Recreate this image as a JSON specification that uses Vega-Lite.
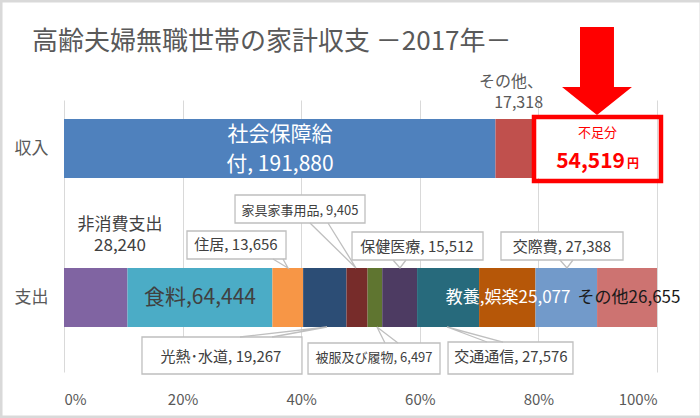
{
  "$schema": "https://vega.github.io/schema/vega-lite/v6.json",
  "width": 593,
  "height": 272,
  "autosize": {"type": "none"},
  "padding": {"left": 64, "top": 100, "right": 43, "bottom": 46},
  "background": "white",
  "config": {"font": "Noto Sans CJK JP", "view": {"stroke": null}},
  "datasets": {
    "budget": [
      {"cat": "収入", "item": "社会保障給付", "value": 191880, "ord": 1},
      {"cat": "収入", "item": "その他（収入）", "value": 17318, "ord": 2},
      {"cat": "収入", "item": "不足分", "value": 54519, "ord": 3},
      {"cat": "支出", "item": "非消費支出", "value": 28240, "ord": 4},
      {"cat": "支出", "item": "食料", "value": 64444, "ord": 5},
      {"cat": "支出", "item": "住居", "value": 13656, "ord": 6},
      {"cat": "支出", "item": "光熱・水道", "value": 19267, "ord": 7},
      {"cat": "支出", "item": "家具家事用品", "value": 9405, "ord": 8},
      {"cat": "支出", "item": "被服及び履物", "value": 6497, "ord": 9},
      {"cat": "支出", "item": "保健医療", "value": 15512, "ord": 10},
      {"cat": "支出", "item": "交通通信", "value": 27576, "ord": 11},
      {"cat": "支出", "item": "教養娯楽", "value": 25077, "ord": 12},
      {"cat": "支出", "item": "交際費", "value": 27388, "ord": 13},
      {"cat": "支出", "item": "その他（支出）", "value": 26655, "ord": 14}
    ],
    "labels": [
      {"kind": "title", "text": "高齢夫婦無職世帯の家計収支 －2017年－", "x": -0.054, "y": 2.661},
      {"kind": "wb", "text": "社会保障給", "x": 0.3642, "y": 2.0906},
      {"kind": "wb", "text": "付, 191,880", "x": 0.3642, "y": 1.8893},
      {"kind": "g1", "text": "その他、", "x": 0.8078, "y": 2.4463},
      {"kind": "g1", "text": "17,318", "x": 0.8078, "y": 2.3054},
      {"kind": "g2", "text": "非消費支出", "x": 0.0944, "y": 1.4866},
      {"kind": "g2", "text": "28,240", "x": 0.0944, "y": 1.3456},
      {"kind": "food", "text": "食料,64,444", "x": 0.2293, "y": 0.997},
      {"kind": "w2", "text": "教養,娯楽25,077", "x": 0.749, "y": 0.997},
      {"kind": "k2", "text": "その他26,655", "x": 0.9528, "y": 0.997},
      {"kind": "c16", "text": "住居, 13,656", "x": 0.29, "y": 1.3523},
      {"kind": "c16", "text": "保健医療, 15,512", "x": 0.5953, "y": 1.3389},
      {"kind": "c16", "text": "交際費, 27,388", "x": 0.8398, "y": 1.3389},
      {"kind": "c16", "text": "光熱･水道, 19,267", "x": 0.2648, "y": 0.6007},
      {"kind": "c16", "text": "交通通信, 27,576", "x": 0.7538, "y": 0.6007},
      {"kind": "c13", "text": "家具家事用品, 9,405", "x": 0.398, "y": 1.5805},
      {"kind": "c13", "text": "被服及び履物, 6,497", "x": 0.5228, "y": 0.594},
      {"kind": "r1", "text": "不足分", "x": 0.8997, "y": 2.104},
      {"kind": "r2", "text": "54,519", "x": 0.946, "y": 1.8691},
      {"kind": "r3", "text": "円", "x": 0.9494, "y": 1.8691}
    ],
    "boxes": [
      {"id": "住居", "x": 0.2074, "x2": 0.3744, "y": 1.4463, "y2": 1.2584},
      {"id": "家具家事用品", "x": 0.2884, "x2": 0.5076, "y": 1.6879, "y2": 1.5},
      {"id": "保健医療", "x": 0.4857, "x2": 0.7066, "y": 1.4396, "y2": 1.2517},
      {"id": "交際費", "x": 0.7369, "x2": 0.9427, "y": 1.4396, "y2": 1.2517},
      {"id": "光熱・水道", "x": 0.1315, "x2": 0.4013, "y": 0.7349, "y2": 0.4866},
      {"id": "被服及び履物", "x": 0.4115, "x2": 0.6341, "y": 0.6946, "y2": 0.4866},
      {"id": "交通通信", "x": 0.6476, "x2": 0.8583, "y": 0.7013, "y2": 0.4866}
    ],
    "pointers": [
      {"id": "住居", "o": 1, "x": 0.3524, "y": 1.2584},
      {"id": "住居", "o": 2, "x": 0.3777, "y": 1.198},
      {"id": "住居", "o": 3, "x": 0.3693, "y": 1.2584},
      {"id": "家具家事用品", "o": 1, "x": 0.4148, "y": 1.5},
      {"id": "家具家事用品", "o": 2, "x": 0.4924, "y": 1.198},
      {"id": "家具家事用品", "o": 3, "x": 0.4452, "y": 1.5},
      {"id": "保健医療", "o": 1, "x": 0.5548, "y": 1.2517},
      {"id": "保健医療", "o": 2, "x": 0.5666, "y": 1.198},
      {"id": "保健医療", "o": 3, "x": 0.5767, "y": 1.2517},
      {"id": "交際費", "o": 1, "x": 0.8364, "y": 1.2517},
      {"id": "交際費", "o": 2, "x": 0.8482, "y": 1.198},
      {"id": "交際費", "o": 3, "x": 0.8583, "y": 1.2517},
      {"id": "光熱・水道", "o": 1, "x": 0.2968, "y": 0.7349},
      {"id": "光熱・水道", "o": 2, "x": 0.4435, "y": 0.802},
      {"id": "光熱・水道", "o": 3, "x": 0.3508, "y": 0.7349},
      {"id": "被服及び履物", "o": 1, "x": 0.5413, "y": 0.6946},
      {"id": "被服及び履物", "o": 2, "x": 0.5278, "y": 0.802},
      {"id": "被服及び履物", "o": 3, "x": 0.5632, "y": 0.6946},
      {"id": "交通通信", "o": 1, "x": 0.7133, "y": 0.7013},
      {"id": "交通通信", "o": 2, "x": 0.6459, "y": 0.802},
      {"id": "交通通信", "o": 3, "x": 0.7403, "y": 0.7013}
    ],
    "shortfall": [
      {"x": 0.7926, "x2": 1.0067, "y": 2.2114, "y2": 1.7819}
    ],
    "frame": [
      {"x": -0.1062, "x2": 1.0742, "y": 2.9899, "y2": 0.1979}
    ],
    "arrow": [
      {"x": 0.8988, "y": 2.5201}
    ]
  },
  "layer": [
    {
      "data": {"name": "budget"},
      "mark": {"type": "bar"},
      "encoding": {
        "y": {"field": "cat", "type": "nominal", "sort": null,
              "scale": {"domain": ["収入", "支出"], "paddingInner": 0.604, "paddingOuter": 0.2148, "align": 0.297, "round": false},
              "axis": {"title": null, "domain": false, "ticks": false, "labelPadding": 16, "labelFontSize": 17, "labelColor": "#595959", "labelFont": "Noto Sans CJK JP"}},
        "x": {"field": "value", "type": "quantitative", "stack": "normalize",
              "scale": {"domain": [0, 1], "nice": false},
              "axis": {"title": null, "format": ".0%", "values": [0, 0.2, 0.4, 0.6, 0.8, 1], "grid": true, "gridColor": "#d9d9d9", "domain": false, "ticks": false, "labelPadding": 20, "labelFontSize": 15, "labelColor": "#595959"}},
        "color": {"field": "item", "type": "nominal", "legend": null,
                  "scale": {"domain": ["社会保障給付", "その他（収入）", "不足分", "非消費支出", "食料", "住居", "光熱・水道", "家具家事用品", "被服及び履物", "保健医療", "交通通信", "教養娯楽", "交際費", "その他（支出）"],
                            "range": ["#4F81BD", "#C0504D", "#FFFFFF", "#8064A2", "#4BACC6", "#F79646", "#2C4D75", "#772C2A", "#5F7530", "#4D3B62", "#276A7C", "#B65708", "#729ACA", "#CD7371"]}},
        "order": {"field": "ord", "type": "quantitative"}
      }
    },
    {
      "data": {"name": "frame"},
      "mark": {"type": "rect", "filled": false, "color": "#d9d9d9", "strokeWidth": 3},
      "encoding": {
        "x": {"field": "x", "type": "quantitative", "title": null},
        "x2": {"field": "x2"},
        "y": {"field": "y", "type": "quantitative", "axis": null, "scale": {"domain": [0.5, 2.3255], "nice": false, "zero": false}},
        "y2": {"field": "y2"}
      }
    },
    {
      "data": {"name": "boxes"},
      "mark": {"type": "rect", "fill": "#ffffff", "stroke": "#bfbfbf", "strokeWidth": 1.3},
      "encoding": {
        "x": {"field": "x", "type": "quantitative", "title": null},
        "x2": {"field": "x2"},
        "y": {"field": "y", "type": "quantitative", "axis": null, "scale": {"domain": [0.5, 2.3255], "nice": false, "zero": false}},
        "y2": {"field": "y2"}
      }
    },
    {
      "data": {"name": "pointers"},
      "mark": {"type": "line", "stroke": "#bfbfbf", "strokeWidth": 1.3},
      "encoding": {
        "x": {"field": "x", "type": "quantitative", "title": null},
        "y": {"field": "y", "type": "quantitative", "axis": null, "scale": {"domain": [0.5, 2.3255], "nice": false, "zero": false}},
        "detail": {"field": "id"},
        "order": {"field": "o", "type": "quantitative"}
      }
    },
    {
      "data": {"name": "shortfall"},
      "mark": {"type": "rect", "filled": false, "color": "#ff0000", "strokeWidth": 4.5},
      "encoding": {
        "x": {"field": "x", "type": "quantitative", "title": null},
        "x2": {"field": "x2"},
        "y": {"field": "y", "type": "quantitative", "axis": null, "scale": {"domain": [0.5, 2.3255], "nice": false, "zero": false}},
        "y2": {"field": "y2"}
      }
    },
    {
      "data": {"name": "arrow"},
      "mark": {"type": "point", "filled": true, "color": "#ff0000", "opacity": 1, "strokeWidth": 0, "size": 7744,
               "shape": "M-0.386,-1 L0.386,-1 L0.386,0.364 L0.795,0.364 L0,1 L-0.795,0.364 L-0.386,0.364 Z"},
      "encoding": {
        "x": {"field": "x", "type": "quantitative", "title": null},
        "y": {"field": "y", "type": "quantitative", "axis": null, "scale": {"domain": [0.5, 2.3255], "nice": false, "zero": false}}
      }
    },
    {
      "data": {"name": "labels"},
      "transform": [{"filter": "datum.kind == 'title'"}],
      "mark": {"type": "text", "fontSize": 26, "color": "#595959", "align": "left", "baseline": "alphabetic"},
      "encoding": {
        "x": {"field": "x", "type": "quantitative", "title": null},
        "y": {"field": "y", "type": "quantitative", "axis": null, "scale": {"domain": [0.5, 2.3255], "nice": false, "zero": false}},
        "text": {"field": "text"}
      }
    },
    {
      "data": {"name": "labels"},
      "transform": [{"filter": "datum.kind == 'wb'"}],
      "mark": {"type": "text", "fontSize": 21, "color": "#ffffff", "align": "center", "baseline": "middle"},
      "encoding": {
        "x": {"field": "x", "type": "quantitative", "title": null},
        "y": {"field": "y", "type": "quantitative", "axis": null, "scale": {"domain": [0.5, 2.3255], "nice": false, "zero": false}},
        "text": {"field": "text"}
      }
    },
    {
      "data": {"name": "labels"},
      "transform": [{"filter": "datum.kind == 'g1'"}],
      "mark": {"type": "text", "fontSize": 16, "color": "#595959", "align": "right", "baseline": "middle"},
      "encoding": {
        "x": {"field": "x", "type": "quantitative", "title": null},
        "y": {"field": "y", "type": "quantitative", "axis": null, "scale": {"domain": [0.5, 2.3255], "nice": false, "zero": false}},
        "text": {"field": "text"}
      }
    },
    {
      "data": {"name": "labels"},
      "transform": [{"filter": "datum.kind == 'g2'"}],
      "mark": {"type": "text", "fontSize": 17, "color": "#404040", "align": "center", "baseline": "middle"},
      "encoding": {
        "x": {"field": "x", "type": "quantitative", "title": null},
        "y": {"field": "y", "type": "quantitative", "axis": null, "scale": {"domain": [0.5, 2.3255], "nice": false, "zero": false}},
        "text": {"field": "text"}
      }
    },
    {
      "data": {"name": "labels"},
      "transform": [{"filter": "datum.kind == 'food'"}],
      "mark": {"type": "text", "fontSize": 21, "color": "#404040", "align": "center", "baseline": "middle"},
      "encoding": {
        "x": {"field": "x", "type": "quantitative", "title": null},
        "y": {"field": "y", "type": "quantitative", "axis": null, "scale": {"domain": [0.5, 2.3255], "nice": false, "zero": false}},
        "text": {"field": "text"}
      }
    },
    {
      "data": {"name": "labels"},
      "transform": [{"filter": "datum.kind == 'w2'"}],
      "mark": {"type": "text", "fontSize": 17, "color": "#ffffff", "align": "center", "baseline": "middle"},
      "encoding": {
        "x": {"field": "x", "type": "quantitative", "title": null},
        "y": {"field": "y", "type": "quantitative", "axis": null, "scale": {"domain": [0.5, 2.3255], "nice": false, "zero": false}},
        "text": {"field": "text"}
      }
    },
    {
      "data": {"name": "labels"},
      "transform": [{"filter": "datum.kind == 'k2'"}],
      "mark": {"type": "text", "fontSize": 17, "color": "#1a1a1a", "align": "center", "baseline": "middle"},
      "encoding": {
        "x": {"field": "x", "type": "quantitative", "title": null},
        "y": {"field": "y", "type": "quantitative", "axis": null, "scale": {"domain": [0.5, 2.3255], "nice": false, "zero": false}},
        "text": {"field": "text"}
      }
    },
    {
      "data": {"name": "labels"},
      "transform": [{"filter": "datum.kind == 'c16'"}],
      "mark": {"type": "text", "fontSize": 15, "color": "#404040", "align": "center", "baseline": "middle"},
      "encoding": {
        "x": {"field": "x", "type": "quantitative", "title": null},
        "y": {"field": "y", "type": "quantitative", "axis": null, "scale": {"domain": [0.5, 2.3255], "nice": false, "zero": false}},
        "text": {"field": "text"}
      }
    },
    {
      "data": {"name": "labels"},
      "transform": [{"filter": "datum.kind == 'c13'"}],
      "mark": {"type": "text", "fontSize": 13, "color": "#404040", "align": "center", "baseline": "middle"},
      "encoding": {
        "x": {"field": "x", "type": "quantitative", "title": null},
        "y": {"field": "y", "type": "quantitative", "axis": null, "scale": {"domain": [0.5, 2.3255], "nice": false, "zero": false}},
        "text": {"field": "text"}
      }
    },
    {
      "data": {"name": "labels"},
      "transform": [{"filter": "datum.kind == 'r1'"}],
      "mark": {"type": "text", "fontSize": 13, "color": "#ff0000", "align": "center", "baseline": "middle"},
      "encoding": {
        "x": {"field": "x", "type": "quantitative", "title": null},
        "y": {"field": "y", "type": "quantitative", "axis": null, "scale": {"domain": [0.5, 2.3255], "nice": false, "zero": false}},
        "text": {"field": "text"}
      }
    },
    {
      "data": {"name": "labels"},
      "transform": [{"filter": "datum.kind == 'r2'"}],
      "mark": {"type": "text", "fontSize": 21, "fontWeight": "bold", "color": "#ff0000", "align": "right", "baseline": "alphabetic"},
      "encoding": {
        "x": {"field": "x", "type": "quantitative", "title": null},
        "y": {"field": "y", "type": "quantitative", "axis": null, "scale": {"domain": [0.5, 2.3255], "nice": false, "zero": false}},
        "text": {"field": "text"}
      }
    },
    {
      "data": {"name": "labels"},
      "transform": [{"filter": "datum.kind == 'r3'"}],
      "mark": {"type": "text", "fontSize": 12, "fontWeight": "bold", "color": "#ff0000", "align": "left", "baseline": "alphabetic"},
      "encoding": {
        "x": {"field": "x", "type": "quantitative", "title": null},
        "y": {"field": "y", "type": "quantitative", "axis": null, "scale": {"domain": [0.5, 2.3255], "nice": false, "zero": false}},
        "text": {"field": "text"}
      }
    }
  ],
  "resolve": {"scale": {"y": "independent"}, "axis": {"y": "independent"}}
}
